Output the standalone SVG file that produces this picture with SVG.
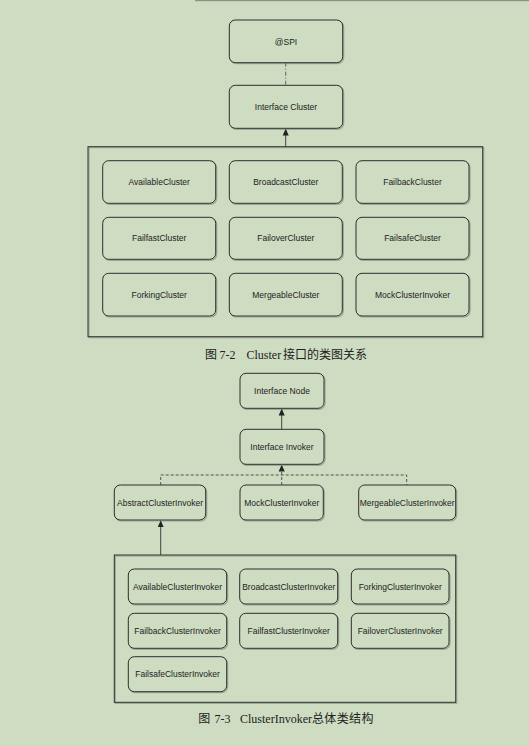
<svg xmlns="http://www.w3.org/2000/svg" width="529" height="746" viewBox="0 0 529 746">
<defs>
<style>
.bg{fill:#cedcc1}
.node rect.b{fill:#cedcc1;stroke:#2e2e2e;stroke-width:1}
.node rect.s{fill:none;stroke:#7a8574;stroke-width:1.2;opacity:0.6}
.node text{font-family:"Liberation Sans",Arial,sans-serif;font-size:8.5px;fill:#222;text-anchor:middle}
.frame{fill:none;stroke:#2e2e2e;stroke-width:1}
.frame-s{fill:none;stroke:#7a8574;stroke-width:1.2;opacity:0.6}
.solid{stroke:#444;stroke-width:1;fill:none}
.dash{stroke:#555;stroke-width:1;fill:none;stroke-dasharray:3,2}
.dashdot{stroke:#666;stroke-width:1;fill:none;stroke-dasharray:4,2,1,2}
.cap{font-family:"Liberation Serif","Noto Sans CJK SC",serif;font-size:12px;fill:#222}
</style>
<marker id="arr" viewBox="0 0 8 8" refX="7.5" refY="4" markerWidth="7" markerHeight="7" orient="auto" markerUnits="userSpaceOnUse">
<path d="M0,0.5 L8,4 L0,7.5 Z" fill="#222"/>
</marker>
</defs>
<rect class="bg" x="0" y="0" width="529" height="746"/>
<rect x="195" y="0" width="334" height="1.2" fill="#8a9384"/>

<g id="connectors">
<line class="dashdot" x1="285.7" y1="62.7" x2="285.7" y2="85.3"/>
<line class="solid" x1="285.7" y1="146.7" x2="285.7" y2="129" marker-end="url(#arr)"/>
<line class="solid" x1="281.7" y1="429.3" x2="281.7" y2="409" marker-end="url(#arr)"/>
<polyline class="dash" points="160.7,485 160.7,475 406.7,475 406.7,485"/>
<line class="dash" x1="281.7" y1="485" x2="281.7" y2="465" marker-end="url(#arr)"/>
<line class="solid" x1="160.7" y1="555" x2="160.7" y2="520.8" marker-end="url(#arr)"/>
</g>

<g id="cluster-frame">
<rect class="frame-s" x="89" y="147.7" width="394.7" height="190"/>
<rect class="frame" x="88" y="146.7" width="394.7" height="190"/>
</g>

<g id="spi" class="node"><rect class="s" x="230.3" y="21" width="113.4" height="42.7" rx="6"/><rect class="b" x="229.3" y="20" width="113.4" height="42.7" rx="6"/><text x="286" y="44.5">@SPI</text></g>
<g id="interface-cluster" class="node"><rect class="s" x="230.3" y="86.3" width="113.4" height="43" rx="6"/><rect class="b" x="229.3" y="85.3" width="113.4" height="43" rx="6"/><text x="286" y="110">Interface Cluster</text></g>

<g id="available-cluster" class="node"><rect class="s" x="103.7" y="161.7" width="113" height="42.6" rx="6"/><rect class="b" x="102.7" y="160.7" width="113" height="42.6" rx="6"/><text x="159.2" y="185">AvailableCluster</text></g>
<g id="broadcast-cluster" class="node"><rect class="s" x="230.3" y="161.7" width="113" height="42.6" rx="6"/><rect class="b" x="229.3" y="160.7" width="113" height="42.6" rx="6"/><text x="285.8" y="185">BroadcastCluster</text></g>
<g id="failback-cluster" class="node"><rect class="s" x="357" y="161.7" width="113" height="42.6" rx="6"/><rect class="b" x="356" y="160.7" width="113" height="42.6" rx="6"/><text x="412.5" y="185">FailbackCluster</text></g>

<g id="failfast-cluster" class="node"><rect class="s" x="103.7" y="218.3" width="113" height="42" rx="6"/><rect class="b" x="102.7" y="217.3" width="113" height="42" rx="6"/><text x="159.2" y="241.3">FailfastCluster</text></g>
<g id="failover-cluster" class="node"><rect class="s" x="230.3" y="218.3" width="113" height="42" rx="6"/><rect class="b" x="229.3" y="217.3" width="113" height="42" rx="6"/><text x="285.8" y="241.3">FailoverCluster</text></g>
<g id="failsafe-cluster" class="node"><rect class="s" x="357" y="218.3" width="113" height="42" rx="6"/><rect class="b" x="356" y="217.3" width="113" height="42" rx="6"/><text x="412.5" y="241.3">FailsafeCluster</text></g>

<g id="forking-cluster" class="node"><rect class="s" x="103.7" y="274.3" width="113" height="42.7" rx="6"/><rect class="b" x="102.7" y="273.3" width="113" height="42.7" rx="6"/><text x="159.2" y="297.7">ForkingCluster</text></g>
<g id="mergeable-cluster" class="node"><rect class="s" x="230.3" y="274.3" width="113" height="42.7" rx="6"/><rect class="b" x="229.3" y="273.3" width="113" height="42.7" rx="6"/><text x="285.8" y="297.7">MergeableCluster</text></g>
<g id="mock-cluster-invoker-1" class="node"><rect class="s" x="357" y="274.3" width="113" height="42.7" rx="6"/><rect class="b" x="356" y="273.3" width="113" height="42.7" rx="6"/><text x="412.5" y="297.7">MockClusterInvoker</text></g>

<g id="caption-1">
<text class="cap" x="205" y="358.5">图</text>
<text class="cap" x="219.5" y="358.5">7-2</text>
<text class="cap" x="246.5" y="358.5">Cluster</text>
<text class="cap" x="283" y="358.5" textLength="84" lengthAdjust="spacing">接口的类图关系</text>
</g>

<g id="interface-node" class="node"><rect class="s" x="241" y="374.3" width="84" height="35" rx="6"/><rect class="b" x="240" y="373.3" width="84" height="35" rx="6"/><text x="282" y="393.8">Interface Node</text></g>
<g id="interface-invoker" class="node"><rect class="s" x="241" y="430.3" width="84" height="35" rx="6"/><rect class="b" x="240" y="429.3" width="84" height="35" rx="6"/><text x="282" y="449.8">Interface Invoker</text></g>

<g id="abstract-cluster-invoker" class="node"><rect class="s" x="115.3" y="486" width="91.4" height="35" rx="6"/><rect class="b" x="114.3" y="485" width="91.4" height="35" rx="6"/><text x="160" y="505.5">AbstractClusterInvoker</text></g>
<g id="mock-cluster-invoker-2" class="node"><rect class="s" x="241" y="486" width="83.3" height="35" rx="6"/><rect class="b" x="240" y="485" width="83.3" height="35" rx="6"/><text x="281.7" y="505.5">MockClusterInvoker</text></g>
<g id="mergeable-cluster-invoker" class="node"><rect class="s" x="359.7" y="486" width="97" height="35" rx="6"/><rect class="b" x="358.7" y="485" width="97" height="35" rx="6"/><text x="407.2" y="505.5">MergeableClusterInvoker</text></g>

<g id="invoker-frame">
<rect class="frame-s" x="115.3" y="556" width="341.4" height="147.3"/>
<rect class="frame" x="114.3" y="555" width="341.4" height="147.3"/>
</g>

<g id="available-cluster-invoker" class="node"><rect class="s" x="129.3" y="570" width="98.4" height="35" rx="6"/><rect class="b" x="128.3" y="569" width="98.4" height="35" rx="6"/><text x="177.5" y="589.5">AvailableClusterInvoker</text></g>
<g id="broadcast-cluster-invoker" class="node"><rect class="s" x="240.7" y="570" width="98" height="35" rx="6"/><rect class="b" x="239.7" y="569" width="98" height="35" rx="6"/><text x="288.7" y="589.5">BroadcastClusterInvoker</text></g>
<g id="forking-cluster-invoker" class="node"><rect class="s" x="352.3" y="570" width="97.7" height="35" rx="6"/><rect class="b" x="351.3" y="569" width="97.7" height="35" rx="6"/><text x="400.2" y="589.5">ForkingClusterInvoker</text></g>

<g id="failback-cluster-invoker" class="node"><rect class="s" x="129.3" y="614.3" width="98.4" height="35" rx="6"/><rect class="b" x="128.3" y="613.3" width="98.4" height="35" rx="6"/><text x="177.5" y="633.8">FailbackClusterInvoker</text></g>
<g id="failfast-cluster-invoker" class="node"><rect class="s" x="240.7" y="614.3" width="98" height="35" rx="6"/><rect class="b" x="239.7" y="613.3" width="98" height="35" rx="6"/><text x="288.7" y="633.8">FailfastClusterInvoker</text></g>
<g id="failover-cluster-invoker" class="node"><rect class="s" x="352.3" y="614.3" width="97.7" height="35" rx="6"/><rect class="b" x="351.3" y="613.3" width="97.7" height="35" rx="6"/><text x="400.2" y="633.8">FailoverClusterInvoker</text></g>

<g id="failsafe-cluster-invoker" class="node"><rect class="s" x="129.3" y="657.7" width="98.4" height="35" rx="6"/><rect class="b" x="128.3" y="656.7" width="98.4" height="35" rx="6"/><text x="177.5" y="677.2">FailsafeClusterInvoker</text></g>

<g id="caption-2">
<text class="cap" x="198.3" y="723">图</text>
<text class="cap" x="214.5" y="723">7-3</text>
<text class="cap" x="240" y="723">ClusterInvoker</text>
<text class="cap" x="312" y="723" textLength="61.5" lengthAdjust="spacing">总体类结构</text>
</g>
</svg>
